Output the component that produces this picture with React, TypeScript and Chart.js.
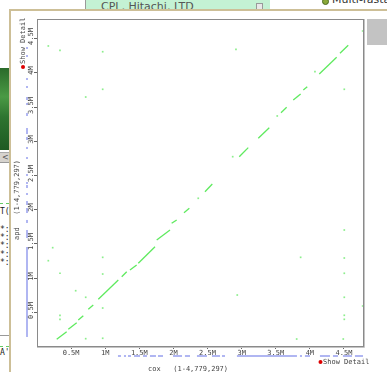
import React, { useEffect, useRef } from 'react';
import { Chart, registerables } from 'chart.js';
Chart.register(...registerables);

const GENOME_LEN = 4779297;
const MB = 1000000;

const tickValues = [500000, 1000000, 1500000, 2000000, 2500000, 3000000, 3500000, 4000000, 4500000];
const tickLabels = ['0.5M', '1M', '1.5M', '2M', '2.5M', '3M', '3.5M', '4M', '4.5M'];

const xTitle = 'cox   (1-4,779,297)';
const yTitle = 'apd   (1-4,779,297)';
const detailLabel = 'Show Detail';

// diagonal alignment segments (Mbp)
const segStartCox = [0.289, 0.459, 0.605, 0.752, 0.899, 1.242, 1.363, 1.485, 1.755, 1.974, 2.155, 2.463, 2.965, 3.244, 3.577, 3.757, 3.904, 4.138, 4.442];
const segStartApd = [0.098, 0.244, 0.380, 0.536, 0.683, 1.013, 1.111, 1.209, 1.549, 1.793, 1.948, 2.255, 2.767, 3.036, 3.410, 3.595, 3.742, 3.975, 4.278];
const segEndCox = [0.435, 0.582, 0.679, 0.825, 1.192, 1.315, 1.461, 1.730, 1.950, 2.048, 2.233, 2.570, 3.097, 3.405, 3.660, 3.865, 3.962, 4.393, 4.563];
const segEndApd = [0.209, 0.341, 0.443, 0.599, 0.965, 1.086, 1.184, 1.451, 1.695, 1.842, 2.013, 2.368, 2.899, 3.191, 3.489, 3.683, 3.790, 4.220, 4.395];

// isolated hits (Mbp)
const dotCox = [0.166, 0.337, 0.963, 0.963, 0.714, 2.917, 4.774, 4.505, 0.230, 0.166, 0.963, 0.337, 0.963, 0.567, 0.714, 0.963, 0.337, 0.337, 0.714, 0.963, 3.807, 4.490, 4.505, 3.865, 4.505, 4.505, 2.936, 4.505, 4.505, 4.505, 4.774, 2.364, 2.869, 3.522, 4.075];
const dotApd = [4.385, 4.322, 4.301, 3.752, 3.639, 4.336, 4.604, 3.752, 1.437, 1.247, 1.296, 1.063, 1.052, 0.808, 0.712, 0.555, 0.449, 0.390, 0.107, 0.113, 0.102, 0.102, 1.695, 1.296, 1.286, 1.063, 0.745, 0.712, 0.449, 0.390, 0.585, 2.159, 2.767, 3.362, 4.009];

// feature tracks along each axis (Mbp)
const coxTrackStart = [1.187, 1.275, 1.334, 1.422, 1.554, 1.656, 1.774, 1.994, 2.169, 2.345, 2.565, 2.712, 2.931, 3.855, 3.928, 4.148, 4.339, 4.485, 4.661];
const coxTrackEnd = [1.231, 1.305, 1.378, 1.510, 1.612, 1.744, 1.847, 2.126, 2.243, 2.492, 2.683, 2.756, 3.811, 3.885, 4.002, 4.295, 4.412, 4.617, 4.779];
const apdTrackStart = [4.341, 4.224, 3.888, 3.771, 3.595, 3.522, 3.362, 3.098, 3.011, 2.879, 2.733, 2.485, 2.368, 2.309, 2.207, 2.061, 1.944, 1.798, 1.578, 0.132];
const apdTrackEnd = [4.370, 4.253, 3.917, 3.800, 3.639, 3.552, 3.405, 3.186, 3.055, 2.909, 2.762, 2.514, 2.397, 2.353, 2.236, 2.119, 2.017, 1.842, 1.695, 1.447];

const MONO = '"DejaVu Sans Mono", "Liberation Mono", monospace';

const decor = {
  id: 'decor',
  afterDraw(chart: any) {
    const { ctx, chartArea: a, scales } = chart;
    const xs = scales.x;
    const ys = scales.y;
    ctx.save();
    // frame
    ctx.strokeStyle = '#8a8a8a';
    ctx.lineWidth = 1;
    ctx.strokeRect(a.left + 0.5, a.top + 0.5, a.right - a.left, a.bottom - a.top);
    ctx.strokeStyle = '#c4c4c4';
    ctx.beginPath();
    ctx.moveTo(a.right + 1.5, a.top);
    ctx.lineTo(a.right + 1.5, a.bottom + 1.5);
    ctx.lineTo(a.left, a.bottom + 1.5);
    ctx.stroke();

    // tracks
    ctx.fillStyle = '#b0b6f2';
    for (let i = 0; i < coxTrackStart.length; i++) {
      const x1 = xs.getPixelForValue(coxTrackStart[i] * MB);
      const x2 = xs.getPixelForValue(coxTrackEnd[i] * MB);
      ctx.fillRect(x1, 355, Math.max(1, x2 - x1), 2);
    }
    for (let i = 0; i < apdTrackStart.length; i++) {
      const y1 = ys.getPixelForValue(apdTrackStart[i] * MB);
      const y2 = ys.getPixelForValue(apdTrackEnd[i] * MB);
      ctx.fillRect(26, y2, 2, Math.max(1, y1 - y2));
    }

    // y ticks & labels
    ctx.font = '7px ' + MONO;
    ctx.fillStyle = '#444';
    ctx.strokeStyle = '#666';
    ctx.textAlign = 'center';
    ctx.textBaseline = 'middle';
    tickValues.forEach((v, i) => {
      const py = Math.round(ys.getPixelForValue(v)) + 0.5;
      ctx.beginPath();
      ctx.moveTo(a.left - 3, py);
      ctx.lineTo(a.left, py);
      ctx.stroke();
      ctx.save();
      ctx.translate(31.5, py - 2);
      ctx.rotate(-Math.PI / 2);
      ctx.fillText(tickLabels[i], 0, 0);
      ctx.restore();
    });

    // titles
    ctx.textAlign = 'center';
    ctx.fillText(xTitle, 188, 369);
    ctx.save();
    ctx.translate(17, 200);
    ctx.rotate(-Math.PI / 2);
    ctx.fillText(yTitle, 0, 0);
    ctx.restore();

    // show detail labels
    ctx.textAlign = 'left';
    ctx.fillText(detailLabel, 323, 362);
    ctx.save();
    ctx.translate(23, 64);
    ctx.rotate(-Math.PI / 2);
    ctx.fillText(detailLabel, 0, 0);
    ctx.restore();
    ctx.fillStyle = '#dd0000';
    ctx.beginPath();
    ctx.arc(320.5, 362, 2, 0, Math.PI * 2);
    ctx.fill();
    ctx.beginPath();
    ctx.arc(23, 67, 2, 0, Math.PI * 2);
    ctx.fill();
    ctx.restore();
  },
};

export default function App() {
  const ref = useRef<HTMLCanvasElement>(null);
  useEffect(() => {
    if (!ref.current) return;
    const datasets: any[] = segStartCox.map((_, i) => ({
      type: 'scatter',
      showLine: true,
      data: [
        { x: segStartCox[i] * MB, y: segStartApd[i] * MB },
        { x: segEndCox[i] * MB, y: segEndApd[i] * MB },
      ],
      borderColor: '#5fea5f',
      borderWidth: 1.3,
      pointRadius: 0,
    }));
    datasets.push({
      type: 'scatter',
      data: dotCox.map((c, i) => ({ x: c * MB, y: dotApd[i] * MB })),
      backgroundColor: '#8cee8c',
      borderWidth: 0,
      pointStyle: 'rect',
      pointRadius: 1.2,
    });
    const chart = new Chart(ref.current, {
      type: 'scatter',
      data: { datasets },
      options: {
        animation: false,
        responsive: false,
        devicePixelRatio: 1,
        events: [],
        layout: { padding: { left: 0, top: 19, right: 24, bottom: 0 } },
        plugins: { legend: { display: false }, tooltip: { enabled: false } },
        scales: {
          x: {
            type: 'linear',
            min: 0,
            max: GENOME_LEN,
            afterFit: (s: any) => { s.height = 26; },
            afterBuildTicks: (s: any) => { s.ticks = tickValues.map((v) => ({ value: v })); },
            ticks: {
              autoSkip: false,
              maxRotation: 0,
              minRotation: 0,
              padding: 0,
              color: '#444',
              font: { family: MONO, size: 7 },
              callback: (_v: any, i: number) => tickLabels[i],
            },
            grid: { drawOnChartArea: false, drawTicks: true, tickLength: 3, color: '#666' },
            border: { display: false },
          },
          y: {
            type: 'linear',
            min: 0,
            max: GENOME_LEN,
            afterFit: (s: any) => { s.width = 37; },
            afterBuildTicks: (s: any) => { s.ticks = tickValues.map((v) => ({ value: v })); },
            ticks: { display: false },
            grid: { display: false },
            border: { display: false },
          },
        },
      } as any,
      plugins: [decor],
    });
    return () => chart.destroy();
  }, []);

  const abs = (s: any) => ({ position: 'absolute', ...s });
  const leftText = { fontFamily: MONO, fontSize: 8, color: '#222', whiteSpace: 'nowrap', lineHeight: '8px' };

  return (
    <div style={{ position: 'fixed', left: 0, top: 0, width: 387, height: 372, overflow: 'hidden', background: '#fff', fontFamily: '"DejaVu Sans", sans-serif' }}>
      {/* top panel behind the window */}
      <div style={abs({ left: 85, top: 0, width: 184, height: 12, background: '#c4f2d4', borderLeft: '1px solid #9a9a9a' })}>
        <span style={abs({ left: 15, top: 0, fontSize: 11, color: '#555', whiteSpace: 'nowrap', lineHeight: '13px' })}>CPL, Hitachi, LTD</span>
        <div style={abs({ left: 170, top: 3, width: 5, height: 5, border: '1px solid #999', background: '#e8e8e8' })} />
      </div>
      <div style={abs({ left: 322, top: -2, width: 5, height: 5, borderRadius: '50%', background: '#8aa838', border: '1px solid #4a6a20' })} />
      <span style={abs({ left: 332, top: -7, fontSize: 11, color: '#333', whiteSpace: 'nowrap', lineHeight: '13px' })}>Multi-fasta</span>

      {/* left strip */}
      <div style={abs({ left: 0, top: 68, width: 9, height: 82, background: 'linear-gradient(180deg, #2b6a2a 0%, #4a9a45 35%, #2e7430 60%, #1e5a22 100%)' })} />
      <div style={abs({ left: 0, top: 152, width: 9, height: 9, background: '#d6d3ce', borderTop: '1px solid #aaa', borderBottom: '1px solid #999' })}>
        <span style={abs({ left: 2, top: 0, fontSize: 8, lineHeight: '9px', color: '#555' })}>&lt;</span>
      </div>
      <div style={abs({ left: 0, top: 203, width: 9, height: 0, borderTop: '1px dashed #66cc66' })} />
      <span style={abs({ left: 0, top: 208, ...leftText })}>T(</span>
      <span style={abs({ left: 0, top: 226, ...leftText })}>*:</span>
      <span style={abs({ left: 0, top: 234, ...leftText })}>*:</span>
      <span style={abs({ left: 0, top: 242, ...leftText })}>*:</span>
      <span style={abs({ left: 0, top: 251, ...leftText })}>*:</span>
      <span style={abs({ left: 0, top: 259, ...leftText })}>*:</span>
      <div style={abs({ left: 0, top: 335, width: 9, height: 1, background: '#999' })} />
      <div style={abs({ left: 0, top: 346, width: 9, height: 0, borderTop: '1px dashed #66cc66' })} />
      <span style={abs({ left: 0, top: 349, ...leftText })}>A'</span>

      {/* window */}
      <div style={abs({ left: 9, top: 9, width: 378, height: 363, boxSizing: 'border-box', borderLeft: '2px solid #cdbf97', borderTop: '2px solid #cdbf97', background: '#fff' })} />
      <div style={abs({ left: 367, top: 19, width: 20, height: 26, background: '#c3c3c3' })} />

      <canvas ref={ref} width={387} height={372} style={abs({ left: 0, top: 0, width: 387, height: 372 })} />
    </div>
  );
}
